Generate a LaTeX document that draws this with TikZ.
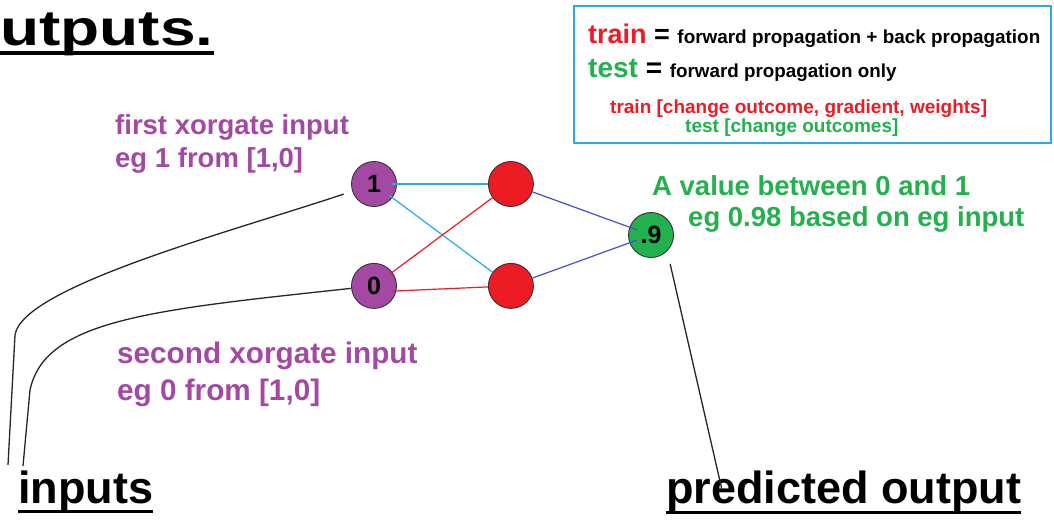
\documentclass[tikz,border=0pt]{standalone}
\usepackage{fontspec}
\setmainfont{Liberation Sans}
\definecolor{XorPurple}{RGB}{163, 73, 164}
\definecolor{XorRed}{RGB}{237, 28, 36}
\definecolor{XorGreen}{RGB}{34, 177, 76}
\definecolor{XorCyan}{RGB}{41, 171, 226}
\definecolor{XorIndigo}{RGB}{72, 76, 210}
\usepackage{tikz}
\usetikzlibrary{positioning, calc}

\tikzset{
  neuron/.style={circle, draw=black!80, line width=0.9pt, minimum size=45pt, inner sep=0pt,
    font=\fontsize{25}{28}\selectfont\bfseries},
  caption/.style={anchor=base west, inner sep=0pt, font=\bfseries},
  pointer/.style={draw=black!85, line width=1.3pt},
  synapse/.style={line width=1.2pt},
  heading/.style={anchor=base west, inner sep=0pt, font=\fontsize{45}{50}\selectfont\bfseries},
}

\begin{document}
\begin{tikzpicture}[x=1pt, y=-1pt]
    \useasboundingbox[fill=white] (0,0) rectangle (1054,523);

    % legend
    \node[draw=XorCyan, line width=2pt, minimum width=477pt, minimum height=137pt, inner sep=0pt,
      anchor=north west] (legend) at (573,5) {};
    \node[caption] (trainrule) at (588,43) {\fontsize{27}{30}\selectfont\textcolor{XorRed}{train} =
      \fontsize{18.9}{22}\selectfont forward propagation + back propagation};
    \node[caption] (testrule) at (588,77) {\fontsize{28}{30}\selectfont\textcolor{XorGreen}{test} =
      \fontsize{18.8}{22}\selectfont forward propagation only};
    \node[caption, text=XorRed, font=\fontsize{19}{22}\selectfont\bfseries] (trainnote) at (610,113)
      {train [change outcome, gradient, weights]};
    \node[caption, text=XorGreen, font=\fontsize{19}{22}\selectfont\bfseries] (testnote) at (685,132)
      {test [change outcomes]};

    % network
    \node[neuron, fill=XorPurple] (in1) at (374,184) {1};
    \node[neuron, fill=XorPurple, below=56pt of in1] (in0) {0};
    \node[neuron, fill=XorRed, right=91pt of in1] (hid1) {};
    \node[neuron, fill=XorRed, right=91pt of in0] (hid2) {};
    \node[neuron, fill=XorGreen] (out) at (651,235) {.9};

    \draw[synapse, XorCyan, shorten <=18pt] (in1.center) -- (hid1);
    \draw[synapse, XorCyan, shorten <=19pt] (in1.center) -- (hid2);
    \draw[synapse, XorRed, shorten <=19pt] (in0.center) -- (hid1);
    \draw[synapse, XorRed, shorten <=19pt] ([yshift=-6pt]in0.center) -- (hid2);
    \draw[synapse, XorIndigo, shorten >=15pt] (hid1) -- (out.center);
    \draw[synapse, XorIndigo, shorten >=15pt] (hid2) -- (out.center);

    % labels
    \node[caption, text=XorPurple, font=\fontsize{27.5}{30}\selectfont\bfseries] (firstin) at (115,134)
      {first xorgate input};
    \node[caption, text=XorPurple, font=\fontsize{27.5}{30}\selectfont\bfseries] (firsteg) at (115,167)
      {eg 1 from [1,0]};
    \node[caption, text=XorPurple, font=\fontsize{29.7}{32}\selectfont\bfseries] (secondin) at (117,363)
      {second xorgate input};
    \node[caption, text=XorPurple, font=\fontsize{29.7}{32}\selectfont\bfseries] (secondeg) at (117,400)
      {eg 0 from [1,0]};
    \node[caption, text=XorGreen, font=\fontsize{27.5}{30}\selectfont\bfseries] (range) at (652,195)
      {A value between 0 and 1};
    \node[caption, text=XorGreen, font=\fontsize{27.5}{30}\selectfont\bfseries] (rangeeg) at (688,226)
      {eg 0.98 based on eg input};

    % headings
    \node[heading, font=\fontsize{50}{55}\selectfont\bfseries] (title) at (0,45) {\scalebox{1.28}[1]{utputs.}};
    \draw[line width=4pt] ([yshift=-8pt]title.base west) -- ([yshift=-8pt]title.base east);
    \node[heading] (inputs) at (18,503) {inputs};
    \draw[line width=3pt] ([yshift=-8pt]inputs.base west) -- ([yshift=-8pt]inputs.base east);
    \node[heading] (predicted) at (666,503) {predicted output};
    \draw[line width=3pt] ([yshift=-9pt]predicted.base west) -- ([yshift=-9pt]predicted.base east);

    % pointers
    \coordinate (inA) at (8,465);
    \coordinate (inB) at (23,466);
    \coordinate (predA) at (722,490);
    \draw[pointer, shorten <=9pt] (in1) .. controls (230,232) and (22,287) .. (15,335) -- (inA);
    \draw[pointer] (in0) .. controls (150,310) and (45,320) .. (30,390) -- (inB);
    \draw[pointer, shorten <=13pt] (out.-45) -- (predA);
  \end{tikzpicture}
\end{document}
